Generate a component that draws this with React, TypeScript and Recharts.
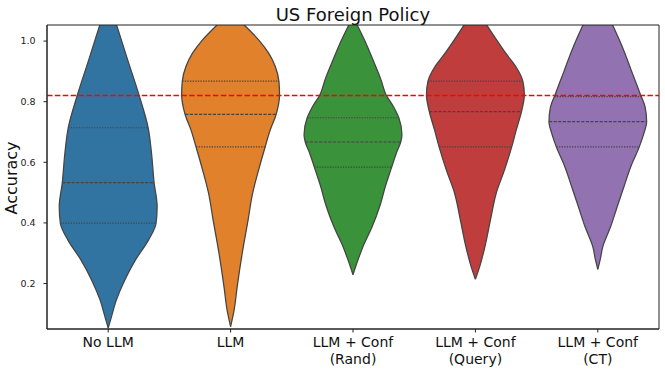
import { ComposedChart, Area, XAxis, YAxis, ReferenceLine, ReferenceArea } from "recharts"

/**
 * Violin plot of accuracy per condition (US Foreign Policy).
 * Each violin is a vertical-layout range Area: [center - halfWidth, center + halfWidth]
 * at sampled accuracy levels read off the source figure.
 */

const FONT = "DejaVu Sans, Liberation Sans, sans-serif"

const categories = ["No LLM", "LLM", "LLM + Conf\n(Rand)", "LLM + Conf\n(Query)", "LLM + Conf\n(CT)"]
const colors = ["#3274a1", "#e1812c", "#3a923a", "#c03d3e", "#9372b2"]

// outline samples: accuracy level -> half width (in category units)
const noLlmAcc = [0.053, 0.091, 0.146, 0.212, 0.278, 0.344, 0.399, 0.454, 0.533, 0.63, 0.713, 0.823, 0.938, 1.054]
const noLlmHalf = [0, 0.027, 0.067, 0.136, 0.223, 0.33, 0.391, 0.4, 0.375, 0.354, 0.327, 0.251, 0.159, 0.068]

const llmAcc = [0.058, 0.113, 0.19, 0.3, 0.41, 0.498, 0.575, 0.65, 0.707, 0.757, 0.823, 0.867, 0.916, 0.96, 1.004, 1.054]
const llmHalf = [0, 0.029, 0.054, 0.095, 0.143, 0.18, 0.229, 0.282, 0.324, 0.371, 0.4, 0.395, 0.365, 0.311, 0.229, 0.109]

const randAcc = [0.229, 0.278, 0.322, 0.388, 0.454, 0.52, 0.584, 0.63, 0.667, 0.691, 0.746, 0.784, 0.823, 0.872, 0.938, 1.004, 1.054]
const randHalf = [0, 0.041, 0.082, 0.157, 0.218, 0.264, 0.316, 0.354, 0.39, 0.4, 0.375, 0.33, 0.27, 0.229, 0.163, 0.093, 0.033]

const queryAcc = [0.214, 0.256, 0.322, 0.41, 0.498, 0.575, 0.65, 0.707, 0.768, 0.823, 0.867, 0.916, 0.96, 1.004, 1.054]
const queryHalf = [0, 0.035, 0.078, 0.123, 0.17, 0.238, 0.296, 0.334, 0.377, 0.4, 0.388, 0.33, 0.248, 0.173, 0.091]

const ctAcc = [0.247, 0.278, 0.322, 0.388, 0.454, 0.52, 0.586, 0.65, 0.696, 0.735, 0.784, 0.823, 0.905, 0.982, 1.054]
const ctHalf = [0, 0.019, 0.041, 0.105, 0.159, 0.214, 0.27, 0.338, 0.377, 0.399, 0.386, 0.349, 0.272, 0.199, 0.12]

// quartiles and the violin half width at each of them
const q1Values = [0.399, 0.651, 0.584, 0.651, 0.651]
const medianValues = [0.533, 0.758, 0.667, 0.767, 0.734]
const q3Values = [0.714, 0.868, 0.747, 0.868, 0.817]
const q1Half = [0.391, 0.282, 0.316, 0.296, 0.338]
const medianHalf = [0.375, 0.371, 0.39, 0.377, 0.399]
const q3Half = [0.327, 0.395, 0.375, 0.388, 0.354]

const threshold = 0.82
const yTicks = [0.2, 0.4, 0.6, 0.8, 1.0]
const yDomain = [0.05, 1.053]

const profiles: [number[], number[]][] = [
  [noLlmAcc, noLlmHalf],
  [llmAcc, llmHalf],
  [randAcc, randHalf],
  [queryAcc, queryHalf],
  [ctAcc, ctHalf],
]

// each violin gets its own small table of [left, right] ranges
const violinRows = profiles.map(([acc, half], i) =>
  acc.map((a, j) => ({ acc: a, range: [i - half[j], i + half[j]] as [number, number] })),
)

function CategoryTick({ x, y, payload }: any) {
  const lines = categories[payload.value].split("\n")
  return (
    <text x={x} y={y} textAnchor="middle" fontSize={14} fill="#111" fontFamily={FONT}>
      {lines.map((line, k) => (
        <tspan key={k} x={x} dy={k === 0 ? 12 : 17}>
          {line}
        </tspan>
      ))}
    </text>
  )
}

const quartileSets = [
  { values: q1Values, half: q1Half, dash: "1.3 1.3" },
  { values: medianValues, half: medianHalf, dash: "3.2 1.4" },
  { values: q3Values, half: q3Half, dash: "1.3 1.3" },
]

export default function App() {
  return (
    <div style={{ position: "absolute", left: 0, top: 0, width: 665, height: 373, background: "#fff" }}>
      <ComposedChart
        layout="vertical"
        width={665}
        height={373}
        margin={{ top: 25, right: 6, bottom: 0, left: 0 }}
      >
        <XAxis
          type="number"
          domain={[-0.5, 4.5]}
          ticks={[0, 1, 2, 3, 4]}
          interval={0}
          height={44}
          tick={<CategoryTick />}
          tickSize={3.5}
          tickLine={{ stroke: "#222" }}
          axisLine={{ stroke: "#222" }}
        />
        <YAxis
          type="number"
          dataKey="acc"
          domain={yDomain}
          allowDataOverflow
          reversed
          ticks={yTicks}
          interval={0}
          width={47}
          tickSize={3.5}
          tickMargin={8}
          tickFormatter={(v: number) => v.toFixed(1)}
          tick={{ fontSize: 9.5, fill: "#222", fontFamily: FONT }}
          tickLine={{ stroke: "#222" }}
          axisLine={{ stroke: "#222" }}
        />
        {categories.map((_, i) => (
          <Area
            key={i}
            data={violinRows[i]}
            dataKey="range"
            type="monotone"
            fill={colors[i]}
            fillOpacity={1}
            stroke="#444"
            strokeWidth={1.25}
            dot={false}
            activeDot={false}
            isAnimationActive={false}
          />
        ))}
        {quartileSets.flatMap((set, s) =>
          set.values.map((v, i) => (
            <ReferenceLine
              key={`q${s}-${i}`}
              segment={[
                { x: i - set.half[i], y: v },
                { x: i + set.half[i], y: v },
              ]}
              stroke="#444"
              strokeWidth={1.2}
              strokeDasharray={set.dash}
            />
          )),
        )}
        <ReferenceLine y={threshold} stroke="#ff0000" strokeWidth={1.5} strokeDasharray="5.5 2.4" />
        <ReferenceArea x1={-0.5} x2={4.5} y1={yDomain[0]} y2={yDomain[1]} fill="none" stroke="#222" strokeWidth={1} />
        <text x={352.9} y={20.7} textAnchor="middle" fontSize={18} fill="#111" fontFamily={FONT}>
          US Foreign Policy
        </text>
        <text x={17} y={178} transform="rotate(-90 17 178)" textAnchor="middle" fontSize={16} fill="#111" fontFamily={FONT}>
          Accuracy
        </text>
      </ComposedChart>
    </div>
  )
}
